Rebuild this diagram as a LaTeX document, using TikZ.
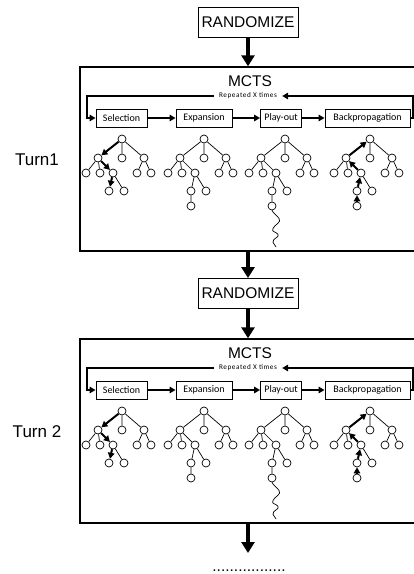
\documentclass[tikz,border=0pt]{standalone}
\usepackage{fontspec}
\setmainfont{Liberation Sans}
\newfontfamily\stagefont{Carlito}
\newfontfamily\repfont[LetterSpace=8]{Carlito}
\usetikzlibrary{arrows.meta}

\tikzset{
  bigbox/.style={draw, line width=1.4pt, inner sep=0pt},
  randbox/.style={draw, line width=0.9pt, minimum width=100pt, minimum height=30pt,
    inner sep=0pt, font=\fontsize{15.5}{18}\selectfont},
  titlefont/.style={inner sep=0pt, font=\fontsize{15.5}{18}\selectfont},
  turnlabel/.style={inner sep=0pt, font=\fontsize{17}{20}\selectfont},
  stage/.style={draw, line width=0.9pt, minimum height=18pt, inner sep=0pt,
    font=\stagefont\fontsize{10}{12}\selectfont},
  reptext/.style={inner xsep=5pt, inner ysep=0pt, font=\repfont\fontsize{7.2}{9}\selectfont},
  flow/.style={line width=3.2pt, -{Triangle[length=11pt,width=13pt]}},
  looparrow/.style={line width=1.6pt, -{Triangle[length=6pt,width=6.5pt]}},
  loopline/.style={line width=1.6pt},
  tn/.style={circle, draw, line width=0.7pt, minimum size=8pt, inner sep=0pt},
  te/.style={line width=0.7pt},
  ta/.style={line width=2pt, -{Triangle[length=6pt,width=6.5pt]}},
}

% nodes of one search tree, root at (#2,#3), and its fixed thin edges
\newcommand\treebase[3]{%
  \begin{scope}[shift={(#2,#3)}]
    \node[tn] (#1r)  at (0,0)    {};
    \node[tn] (#1a)  at (-24,19) {};
    \node[tn] (#1b)  at (0,19)   {};
    \node[tn] (#1c)  at (22,19)  {};
    \node[tn] (#1a1) at (-36,34) {};
    \node[tn] (#1a2) at (-22,34) {};
    \node[tn] (#1a3) at (-9,34)  {};
    \node[tn] (#1c1) at (15,34)  {};
    \node[tn] (#1c2) at (29,34)  {};
    \node[tn] (#1d1) at (-13,52) {};
    \node[tn] (#1d2) at (2,52)   {};
  \end{scope}
  \draw[te] (#1r) -- (#1b) (#1r) -- (#1c)
            (#1a) -- (#1a1) (#1a) -- (#1a2)
            (#1c) -- (#1c1) (#1c) -- (#1c2)
            (#1a3) -- (#1d2);%
}
% the newly expanded leaf
\newcommand\treeleaf[3]{%
  \begin{scope}[shift={(#2,#3)}]
    \node[tn] (#1e) at (-13,67) {};
  \end{scope}%
}

% one MCTS iteration panel, shifted down by #2
\newcommand\mctspanel[3]{%
  \begin{scope}[shift={(0,#2)}]
    \node[bigbox, minimum width=336pt, minimum height=184pt] (#1box) at (248,159) {};
    \node[titlefont] (#1title) at (250,81) {MCTS};
    \node[turnlabel] (#1turn) at (37,160) {#3};
    \node[stage, minimum width=51pt] (#1sel) at (121.5,118) {Selection};
    \node[stage, minimum width=56pt] (#1exp) at (204,118) {Expansion};
    \node[stage, minimum width=41pt] (#1ply) at (281,118) {Play-out};
    \node[stage, minimum width=85pt] (#1bp)  at (367.5,118) {Backpropagation};
    \node[reptext] (#1rep) at (248,96) {Repeated X times};
    \coordinate (#1loopL) at (87,96);
    \coordinate (#1loopR) at (413,96);
    \draw[looparrow] (#1sel) -- (#1exp);
    \draw[looparrow] (#1exp) -- (#1ply);
    \draw[looparrow] (#1ply) -- (#1bp);
    \draw[looparrow] (#1bp.east) -| (#1loopR) -- (#1rep.east);
    \draw[looparrow] (#1rep.west) -- (#1loopL) |- (#1sel.west);
    % selection
    \treebase{#1S}{122}{139}
    \draw[ta] (#1Sr) -- (#1Sa);
    \draw[ta] (#1Sa) -- (#1Sa3);
    \draw[ta] (#1Sa3) -- (#1Sd1);
    % expansion
    \treebase{#1E}{204}{139}
    \treeleaf{#1E}{204}{139}
    \draw[te] (#1Er) -- (#1Ea) (#1Ea) -- (#1Ea3) (#1Ea3) -- (#1Ed1) (#1Ed1) -- (#1Ee);
    % play-out
    \treebase{#1P}{285}{139}
    \treeleaf{#1P}{285}{139}
    \draw[te] (#1Pr) -- (#1Pa) (#1Pa) -- (#1Pa3) (#1Pa3) -- (#1Pd1) (#1Pd1) -- (#1Pe);
    \begin{scope}[shift={(285,139)}]
      \coordinate (#1Pend) at (-9,108);
    \end{scope}
    \draw[te, line join=round] (#1Pe.south) .. controls +(2,4) and +(-3,-4) .. ++(7,8)
      .. controls +(3,4) and +(2,-4) .. ++(-6,10)
      .. controls +(-2,4) and +(-2,-3) .. ++(5,6)
      .. controls +(2,3) and +(-1,-4) .. ++(-5,8)
      .. controls +(1,3) .. (#1Pend);
    % backpropagation
    \treebase{#1B}{370}{139}
    \treeleaf{#1B}{370}{139}
    \draw[ta] (#1Be) -- (#1Bd1);
    \draw[ta] (#1Bd1) -- (#1Ba3);
    \draw[ta] (#1Ba3) -- (#1Ba);
    \draw[ta] (#1Ba) -- (#1Br);
  \end{scope}%
}

\begin{document}
\begin{tikzpicture}[x=1pt,y=-1pt]
  \clip (0,0) rectangle (414,574);
  \node[randbox] (rand1) at (248,22) {RANDOMIZE};
  \mctspanel{p}{0}{Turn1}
  \draw[flow] (rand1.south) -- (pbox.north);
  \node[randbox] (rand2) at (248,293.5) {RANDOMIZE};
  \draw[flow] (pbox.south) -- (rand2.north);
  \mctspanel{q}{272}{Turn 2}
  \draw[flow] (rand2.south) -- (qbox.north);
  \coordinate (next) at (248,553);
  \draw[flow] (qbox.south) -- (next);
  \node[anchor=base, inner sep=0pt, font=\fontsize{15.5}{18}\selectfont] (dots) at (249,571) {.................};
\end{tikzpicture}
\end{document}
